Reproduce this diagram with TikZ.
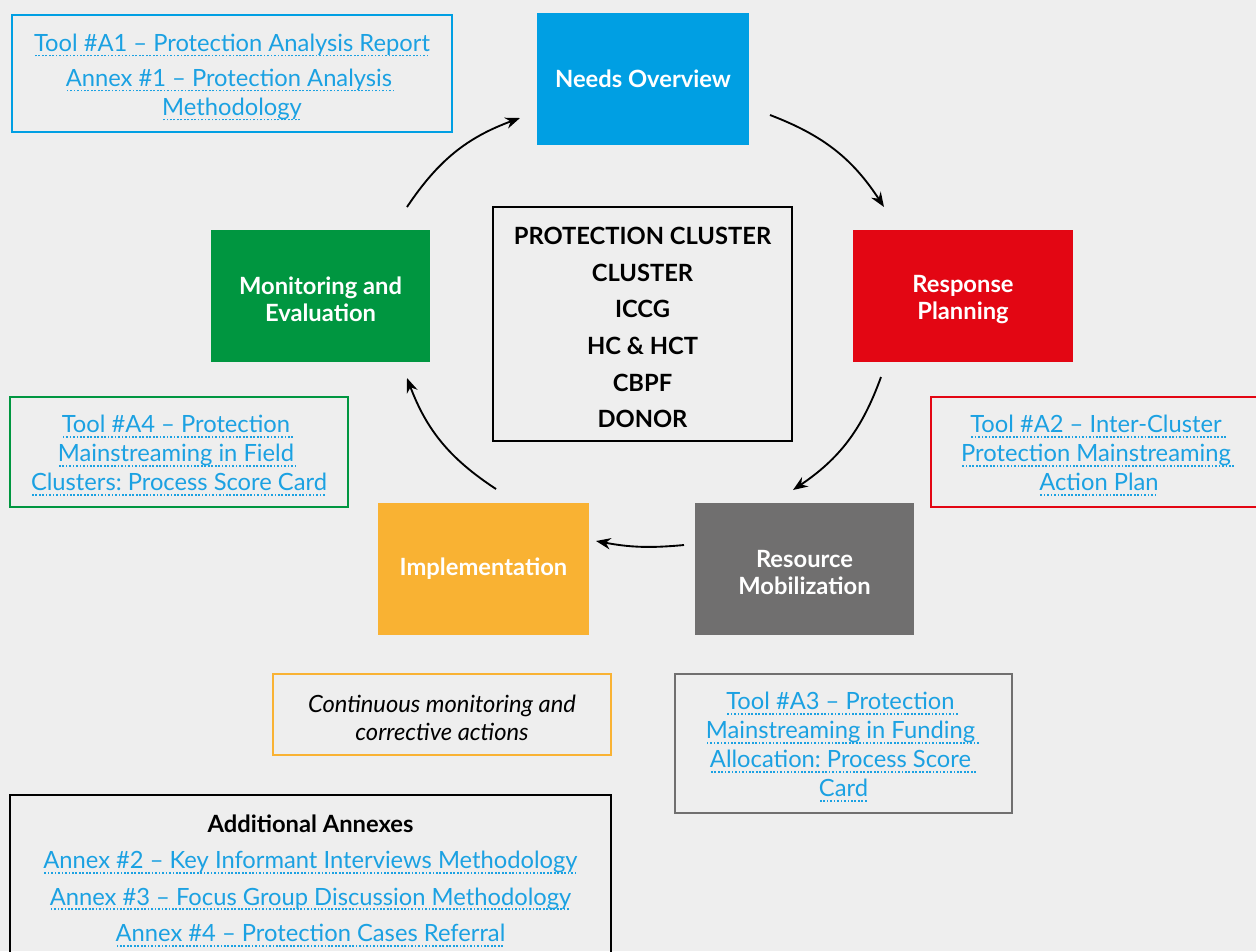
\documentclass[tikz,border=0pt]{standalone}
\usepackage{fontspec}
\setmainfont{Lato}
\usetikzlibrary{arrows.meta}
\definecolor{bggray}{HTML}{EEEEEE}
\definecolor{needblue}{HTML}{009FE3}
\definecolor{respred}{HTML}{E30613}
\definecolor{mobgray}{HTML}{706F6F}
\definecolor{implorange}{HTML}{F9B233}
\definecolor{mongreen}{HTML}{009640}
\definecolor{linkblue}{HTML}{1BA1E2}
% text with a dotted underline
\newcommand{\toollink}[1]{\textcolor{linkblue}{\setbox0\hbox{#1}\copy0\llap{\hbox to \wd0{\leaders\hbox to 2.6pt{\hss\rule[-3.8pt]{1.3pt}{1.3pt}\hss}\hfill}}}}
% extra room above the first line
\newcommand{\topgap}{\rule{0pt}{18.5pt}}
\begin{document}
\frenchspacing
\begin{tikzpicture} [
  x=0.75pt, y=-0.75pt,
  stage/.style= {rectangle,inner sep=2pt,text=white,align=center,
    font=\fontsize{17.8}{20.5}\selectfont\bfseries},
  toolbox/.style= {rectangle,draw,line width=1.6pt,align=center,inner sep=2pt,
    font=\fontsize{17.8}{21.75}\selectfont},
  cycle arrow/.style= {-{Stealth[length=11pt,width=8.5pt]},line width=1.4pt,bend left=18},
]
\fill[bggray] (0,0) rectangle (1256,951);
\useasboundingbox (0,0) rectangle (1256,951);

% stages of the cycle
\node (needs) [stage,fill=needblue,minimum width=212*0.75pt,minimum height=132*0.75pt] at (643,79) {Needs Overview};
\node (resp) [stage,fill=respred,minimum width=220*0.75pt,minimum height=132*0.75pt] at (963,296) {\topgap Response\\Planning};
\node (mob) [stage,fill=mobgray,minimum width=219*0.75pt,minimum height=132*0.75pt] at (804.5,569) {\topgap Resource\\Mobilization};
\node (impl) [stage,fill=implorange,minimum width=211*0.75pt,minimum height=132*0.75pt] at (483.5,569) {Implementation};
\node (mon) [stage,fill=mongreen,minimum width=219*0.75pt,minimum height=132*0.75pt] at (320.5,296) {\topgap Monitoring and\\Evaluation};

% actors in the middle
\node (actors) [toolbox,draw=black,minimum width=299*0.75pt,minimum height=234*0.75pt,
  font=\fontsize{17.8}{27.4}\selectfont\bfseries] at (642.5,324)
  {\topgap PROTECTION CLUSTER\\CLUSTER\\ICCG\\HC \& HCT\\CBPF\\DONOR};

% tools for each stage
\node (toolA1) [toolbox,draw=needblue,minimum width=440*0.75pt,minimum height=117*0.75pt] at (232,73.5)
  {\topgap\toollink{Tool \#A1 – Protection Analysis Report}\\[4.5pt]
   \toollink{Annex \#1 – Protection Analysis }\\
   \toollink{Methodology}};
\node (toolA2) [toolbox,draw=respred,minimum width=336*0.75pt,minimum height=110*0.75pt] at (1099,452)
  {\topgap\toollink{Tool \#A2 – Inter-Cluster }\\
   \toollink{Protection Mainstreaming }\\
   \toollink{Action Plan}};
\node (toolA3) [toolbox,draw=mobgray,minimum width=337*0.75pt,minimum height=139*0.75pt] at (843.5,743.5)
  {\topgap\toollink{Tool \#A3 – Protection }\\
   \toollink{Mainstreaming in Funding }\\
   \toollink{Allocation: Process Score }\\
   \toollink{Card}};
\node (cont) [toolbox,draw=implorange,minimum width=338*0.75pt,minimum height=81*0.75pt,
  font=\fontsize{17.8}{21}\selectfont\itshape] at (442,714.5)
  {\topgap Continuous monitoring and\\corrective actions};
\node (toolA4) [toolbox,draw=mongreen,minimum width=338*0.75pt,minimum height=110*0.75pt] at (179,452)
  {\topgap\toollink{Tool \#A4 – Protection }\\
   \toollink{Mainstreaming in Field }\\
   \toollink{Clusters: Process Score Card}};

% additional annexes
\node (annex) [toolbox,draw=black,minimum width=601*0.75pt,minimum height=164*0.75pt,
  font=\fontsize{17.8}{27.4}\selectfont] at (310.5,877)
  {\topgap\textbf{Additional Annexes}\\
   \toollink{Annex \#2 – Key Informant Interviews Methodology}\\
   \toollink{Annex \#3 – Focus Group Discussion Methodology}\\
   \toollink{Annex \#4 – Protection Cases Referral}};

% arrows of the cycle
\coordinate (c1s) at (407,207);
\coordinate (c1e) at (520,118);
\coordinate (c2s) at (770,115);
\coordinate (c2e) at (884,207);
\coordinate (c3s) at (881,377);
\coordinate (c3e) at (793,490);
\coordinate (c4s) at (684,545);
\coordinate (c4e) at (596,541);
\coordinate (c5s) at (496,489);
\coordinate (c5e) at (407,378);
\draw [cycle arrow] (c1s) to (c1e);
\draw [cycle arrow] (c2s) to (c2e);
\draw [cycle arrow] (c3s) to (c3e);
\draw [cycle arrow,bend left=8] (c4s) to (c4e);
\draw [cycle arrow] (c5s) to (c5e);

\end{tikzpicture}
\end{document}
